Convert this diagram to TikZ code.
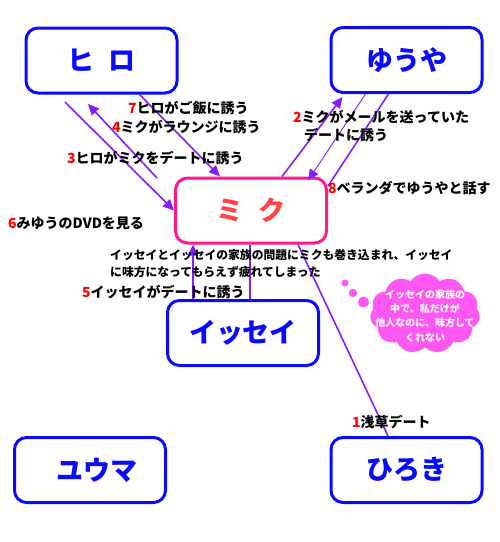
\documentclass[tikz,border=0pt]{standalone}
\usepackage{fontspec}
\newfontfamily\cjk{Noto Sans CJK JP}
\usetikzlibrary{arrows.meta,shapes.symbols}
\definecolor{boxblue}{RGB}{10,10,255}
\definecolor{mikupink}{RGB}{255,25,140}
\definecolor{mikutext}{RGB}{255,70,70}
\definecolor{linkpurple}{RGB}{130,30,255}
\definecolor{numred}{RGB}{255,0,0}
\definecolor{cloudpink}{RGB}{255,88,242}
\tikzset{
  person/.style={draw=boxblue, line width=3pt, rounded corners=12pt,
    minimum width=151pt, minimum height=65pt, inner sep=0pt, fill=white,
    text=boxblue, font=\cjk\bfseries\fontsize{27}{30}\selectfont},
  mikubox/.style={person, draw=mikupink, text=mikutext},
  lbl/.style={anchor=west, inner sep=0pt, align=left,
    font=\cjk\bfseries\fontsize{14}{18}\selectfont},
  link/.style={draw=linkpurple, line width=1.6pt},
  thinlink/.style={draw=linkpurple, line width=0.9pt},
  arr/.style={-{Triangle[length=11pt,width=10pt]}},
}
\newcommand{\num}[1]{\textcolor{numred}{#1}}
\begin{document}
\begin{tikzpicture}[x=1pt,y=-1pt]
\useasboundingbox (0,0) rectangle (500,542);
% boxes
\node[person] (hiro) at (101.5,60.5) {ヒ\hspace{0.55em}ロ};
\node[person] (yuya) at (406.5,60) {ゆうや};
\node[mikubox] (miku) at (251,210.5) {ミ\hspace{0.55em}ク};
\node[person] (issei) at (243,333) {イッセイ};
\node[person] (yuma) at (90,470) {\hspace{14pt}ユウマ};
\node[person] (hiroki) at (406.5,470) {ひろき};
% free ends
\coordinate (a3s) at (65,102);
\coordinate (a4s) at (157,178);
\coordinate (a4e) at (88,104);
\coordinate (a2t) at (342.5,97);
\coordinate (a8e) at (328,186);
% connectors
\draw[link,arr] (a3s) -- (miku.west);
\draw[link,arr] (a4s) -- (a4e);
\draw[link,arr] ([xshift=38pt]hiro.south) -- ([xshift=-31pt]miku.north);
\draw[link,arr] ([xshift=31pt]miku.north) -- (a2t);
\draw[thinlink,arr] ([xshift=-41pt]yuya.south) -- ([xshift=57pt,yshift=-4pt]miku.north);
\draw[link] ([xshift=-18pt]yuya.south) -- (a8e);
\draw[link,arr] ([xshift=-50pt]issei.north) -- ([xshift=-58pt]miku.south);
\draw[link] ([xshift=7pt]issei.north) -- ([xshift=-1pt]miku.south);
\draw[link] ([xshift=47pt]miku.south) -- ([xshift=-18.5pt]hiroki.north);
% labels
\node[lbl] (l7) at (128,108) {\num{7}ヒロがご飯に誘う};
\node[lbl] (l4) at (112,127) {\num{4}ミクがラウンジに誘う};
\node[lbl] (l3) at (67,158) {\num{3}ヒロがミクをデートに誘う};
\node[lbl] (l6) at (8,223) {\num{6}みゆうのDVDを見る};
\node[lbl] (l2) at (293,126) {\num{2}ミクがメールを送っていた\\\hspace{11pt}デートに誘う};
\node[lbl] (l8) at (328,188) {\num{8}ベランダでゆうやと話す};
\node[lbl, font=\cjk\bfseries\fontsize{11.8}{17}\selectfont] (lis) at (110,263.5)
  {イッセイとイッセイの家族の問題にミクも巻き込まれ、イッセイ\\に味方になってもらえず疲れてしまった};
\node[lbl] (l5) at (82,292) {\num{5}イッセイがデートに誘う};
\node[lbl] (l1) at (352,422) {\num{1}浅草デート};
% thought cloud
\node[cloud, cloud puffs=11, cloud puff arc=110, aspect=1.4, fill=cloudpink,
  minimum width=110pt, minimum height=80pt, inner sep=0pt] (cloud) at (425,313.5) {};
\fill[cloudpink] (345,283) circle (3.5pt);
\fill[cloudpink] (353,293) circle (4.2pt);
\fill[cloudpink] (363.5,302) circle (5.5pt);
\node[align=center, text=white, inner sep=0pt,
  font=\cjk\bfseries\fontsize{10}{14.2}\selectfont] (ctext) at (425,316)
  {イッセイの家族の\\中で、私だけが\\他人なのに、味方して\\くれない};
\end{tikzpicture}
\end{document}
